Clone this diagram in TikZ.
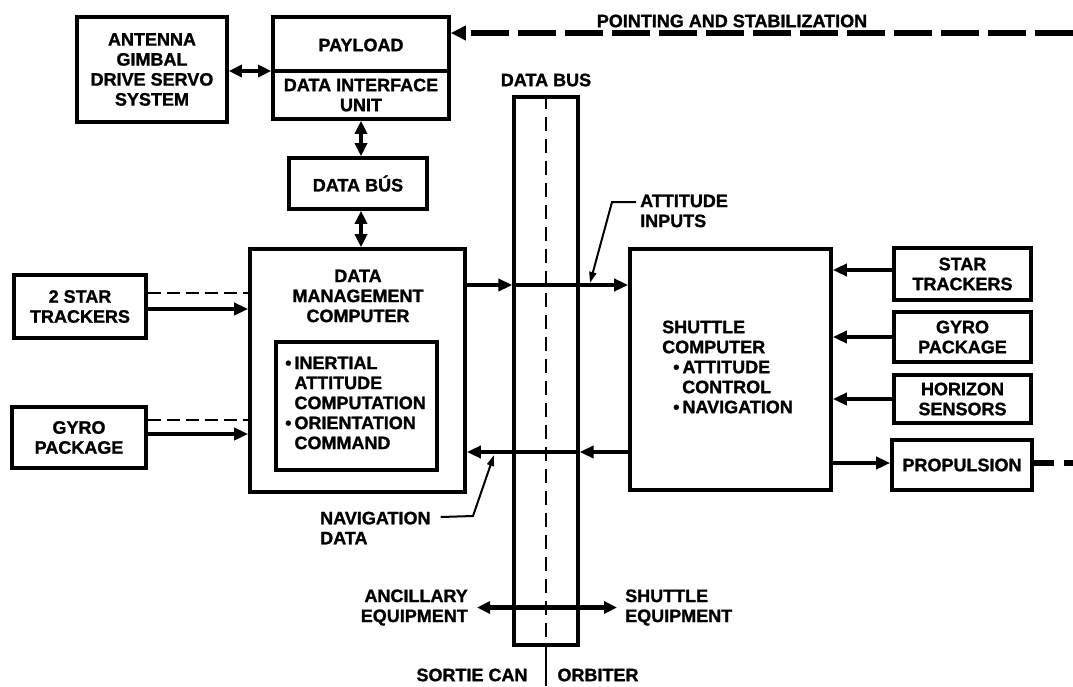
\documentclass[tikz,border=0pt]{standalone}
\usepackage{fontspec}
\setmainfont{Liberation Sans}[BoldFeatures={FakeBold=1.2}]
\usetikzlibrary{arrows.meta}
\newcommand{\labfont}{\fontsize{18}{20}\selectfont\bfseries}
\tikzset{
  box/.style={draw, line width=3.6pt, rectangle, inner sep=0pt, align=center, font=\labfont},
  lab/.style={font=\labfont, align=center, inner sep=0pt},
  arr/.style={line width=4.2pt, -{Triangle[length=14pt,width=12pt]}},
  dbl/.style={line width=4.2pt, {Triangle[length=13pt,width=12pt]}-{Triangle[length=13pt,width=12pt]}},
  thindash/.style={line width=2.6pt, dash pattern=on 13pt off 6pt},
  leader/.style={line width=2pt, -{Triangle[length=11pt,width=7pt]}},
  busline/.style={line width=3.2pt},
}
\begin{document}
\begin{tikzpicture}[x=1pt,y=-1pt]
\fill[white] (0,0) rectangle (1073,686);
\useasboundingbox (0,0) rectangle (1073,686);

% top left
\node[box, minimum width=150pt, minimum height=105pt] (ant) at (152,69.5) {ANTENNA\\GIMBAL\\DRIVE SERVO\\SYSTEM};
\node[box, minimum width=176pt, minimum height=102pt] (pay) at (361,68) {};
\draw[line width=3.2pt] (pay.west |- 0,71) -- (pay.east |- 0,71);
\node[lab] (payt) at (361,45) {PAYLOAD};
\node[lab] (diu) at (361,95) {DATA INTERFACE\\UNIT};
\draw[dbl] (ant.east |- 0,71) -- (pay.west |- 0,71);

\node[box, minimum width=138pt, minimum height=51pt] (dbs) at (358,183.5) {DATA B\'US};

% data management computer
\node[box, minimum width=215pt, minimum height=243pt] (dmc) at (357.5,370.5) {};
\node[lab] (dmct) at (358,296) {DATA\\MANAGEMENT\\COMPUTER};
\node[box, minimum width=161pt, minimum height=128pt] (inner) at (356.5,406) {};
\node[lab, align=left, anchor=west] (innert) at (285,403) {\textbullet\,INERTIAL\\\phantom{\textbullet\,}ATTITUDE\\\phantom{\textbullet\,}COMPUTATION\\\textbullet\,ORIENTATION\\\phantom{\textbullet\,}COMMAND};

\draw[dbl] (pay.south) -- (pay.south |- dbs.north);
\draw[dbl] (dbs.south -| pay.south) -- (dmc.north -| pay.south);

% left sensors
\node[box, minimum width=132pt, minimum height=63pt] (st2) at (80,306.5) {2 STAR\\TRACKERS};
\node[box, minimum width=134pt, minimum height=61pt] (gy2) at (79,437.5) {GYRO\\PACKAGE};
\draw[thindash] (st2.east |- 0,293) -- (dmc.west |- 0,293);
\draw[arr] (st2.east |- 0,309) -- (dmc.west |- 0,309);
\draw[thindash] (gy2.east |- 0,420) -- (dmc.west |- 0,420);
\draw[arr] (gy2.east |- 0,434) -- (dmc.west |- 0,434);

% data bus
\node[draw, busline, inner sep=0pt, minimum width=64pt, minimum height=548pt] (bus) at (546,371) {};
\node[lab] (bust) at (546,80) {DATA BUS};
\draw[line width=2.4pt, dash pattern=on 14pt off 8pt] (bus.north) -- (bus.south);
\coordinate (bot) at (546,686);
\draw[line width=2.4pt] (bus.south) -- (bot);

% shuttle computer
\node[box, minimum width=201pt, minimum height=241pt] (sc) at (730.5,369.5) {};
\node[lab, align=left, anchor=west] (sct) at (662,367) {SHUTTLE\\COMPUTER\\\hspace*{11pt}\textbullet\,ATTITUDE\\\hspace*{20pt}CONTROL\\\hspace*{11pt}\textbullet\,NAVIGATION};

\draw[arr] (dmc.east |- 0,285) -- (bus.west |- 0,285);
\draw[arr] (bus.west |- 0,285) -- (sc.west |- 0,285);
\draw[arr] (sc.west |- 0,452) -- (bus.east |- 0,452);
\draw[arr] (bus.east |- 0,452) -- (dmc.east |- 0,452);

% right sensors
\node[box, minimum width=137pt, minimum height=52pt] (st) at (962.5,274) {STAR\\TRACKERS};
\node[box, minimum width=137pt, minimum height=50pt] (gy) at (962.5,337) {GYRO\\PACKAGE};
\node[box, minimum width=137pt, minimum height=48pt] (hz) at (962.5,399) {HORIZON\\SENSORS};
\node[box, minimum width=140pt, minimum height=50pt] (pr) at (962,465) {PROPULSION};
\draw[arr] (st.west |- 0,270) -- (sc.east |- 0,270);
\draw[arr] (gy.west) -- (gy.west -| sc.east);
\draw[arr] (hz.west) -- (hz.west -| sc.east);
\draw[arr] (sc.east |- 0,463) -- (pr.west |- 0,463);
\coordinate (pe) at (1073,463);
\draw[line width=5.5pt, dash pattern=on 20pt off 10pt] (pr.east |- 0,463) -- (pe);

% pointing and stabilization
\coordinate (pte) at (1073,33);
\draw[line width=6pt, dash pattern=on 38pt off 9pt, -{Triangle[length=15pt,width=14pt]}] (pte) -- (pay.east |- 0,33);
\node[lab] (pst) at (732,21) {POINTING AND STABILIZATION};

% labels with leaders
\node[lab, align=left, anchor=west] (ai) at (640,211) {ATTITUDE\\INPUTS};
\coordinate (aiL) at (612,202);
\coordinate (aiT) at (590,283);
\draw[leader] ([xshift=-4pt]ai.west |- 0,202) -- (aiL) -- (aiT);

\node[lab, align=left, anchor=west] (nd) at (320,528) {NAVIGATION\\DATA};
\coordinate (ndL) at (473,516);
\coordinate (ndT) at (494,455);
\draw[leader] ([xshift=10pt]nd.east |- 0,517) -- (ndL) -- (ndT);

\node[lab, align=right, anchor=east] (anc) at (468,607.5) {ANCILLARY\\EQUIPMENT};
\node[lab, align=left, anchor=west] (she) at (625,607.5) {SHUTTLE\\EQUIPMENT};
\draw[dbl] ([xshift=9pt]anc.east) -- ([xshift=-8pt]she.west);

\node[lab] (sca) at (472,675) {SORTIE CAN};
\node[lab] (orb) at (598,675) {ORBITER};
\end{tikzpicture}
\end{document}
